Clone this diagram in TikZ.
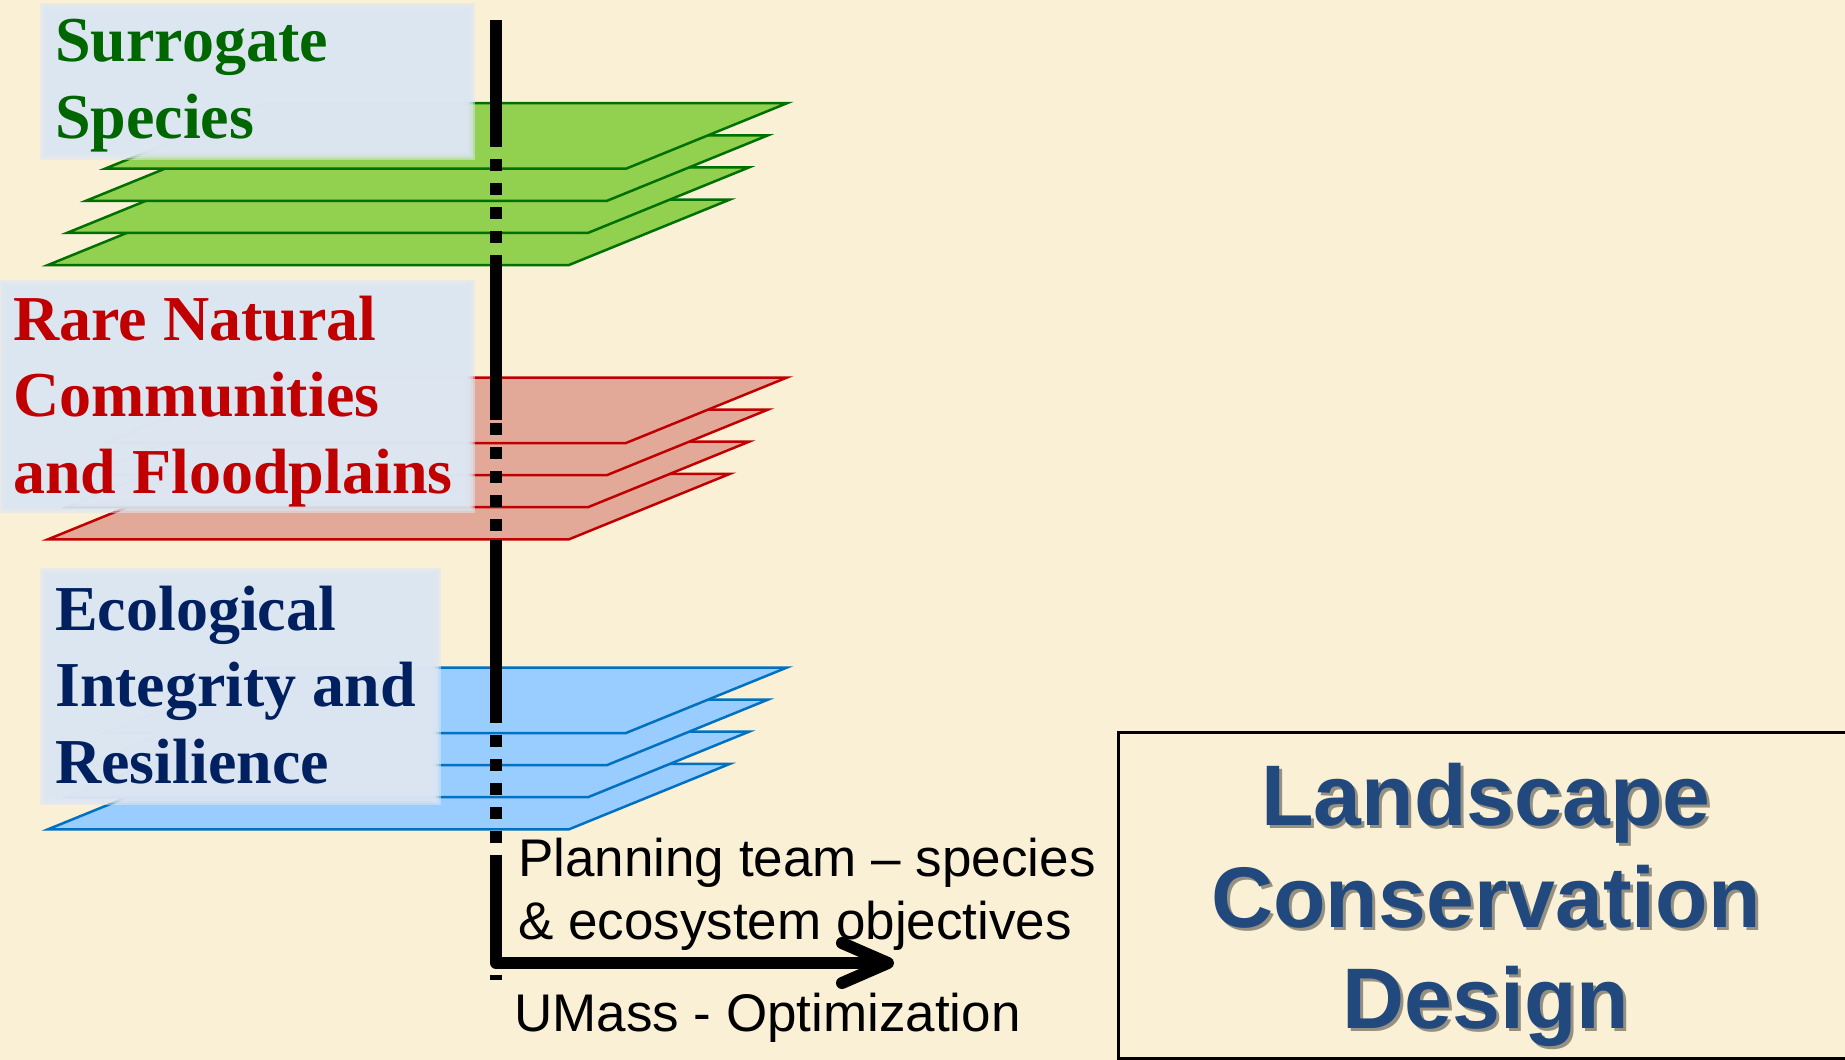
\documentclass[tikz,border=0pt]{standalone}
\usepackage{fontspec}
\setmainfont{Liberation Serif}
\newfontfamily\sansfont{Liberation Sans}

\definecolor{paper}{RGB}{250,240,214}
\definecolor{labelbg}{RGB}{220,230,242}
\definecolor{greenfill}{RGB}{146,208,80}
\definecolor{greenline}{RGB}{0,112,0}
\definecolor{redfill}{RGB}{227,169,152}
\definecolor{redline}{RGB}{192,0,0}
\definecolor{bluefill}{RGB}{153,204,255}
\definecolor{blueline}{RGB}{0,112,192}
\definecolor{greentext}{RGB}{0,102,0}
\definecolor{redtext}{RGB}{192,0,0}
\definecolor{navytext}{RGB}{0,32,96}
\definecolor{titleblue}{RGB}{33,73,125}

% four stacked map layers; #1 = y of the lowest front edge
\newcommand\layerstack[3]{%
  \foreach \i in {0,...,3} {
    \draw[layer, fill=#2, draw=#3]
      ({48+19*\i},{#1-32.1*\i}) -- ++(521,0) -- ++(161,-65.5) -- ++(-521,0) -- cycle;
  }}

% label panel with soft edges; corners (#1,#2) and (#3,#4)
\newcommand\softpanel[4]{%
  \foreach \d in {5,3,1,-1,-3,-5} {
    \fill[labelbg, opacity=0.55] ({#1-\d},{#2-\d}) rectangle ({#3+\d},{#4+\d});
  }}

\begin{document}
\begin{tikzpicture}[x=1pt,y=-1pt,
  layer/.style={line width=2.5pt, line join=miter},
  lab/.style={anchor=base west, inner sep=0pt, font=\fontsize{64}{74}\selectfont\bfseries},
  note/.style={anchor=base west, inner sep=0pt, font=\sansfont\fontsize{53}{63}\selectfont},
  title/.style={anchor=base, inner sep=0pt, text=titleblue, font=\sansfont\bfseries\fontsize{86}{102}\selectfont},
  tshadow/.style={title, text=black, opacity=0.4},
  pole/.style={line width=12pt},
  arrowline/.style={line width=12pt, line join=round}]

\useasboundingbox (0,0) rectangle (1845,1060);
\clip (0,0) rectangle (1845,1060);
\fill[paper] (0,0) rectangle (1845,1060);

% layer stacks
\layerstack{265}{greenfill}{greenline}
\layerstack{539.3}{redfill}{redline}
\layerstack{829.3}{bluefill}{blueline}

% label panels
\softpanel{45}{8}{470}{155}
\softpanel{4}{285}{470}{508}
\softpanel{45}{573}{436}{800}

% labels
\node[lab, text=greentext] (sur1) at (55,61) {Surrogate};
\node[lab, text=greentext] (sur2) at (55,138) {Species};
\node[lab, text=redtext] (rare1) at (13,340) {Rare Natural};
\node[lab, text=redtext] (rare2) at (13,416.5) {Communities};
\node[lab, text=redtext] (rare3) at (13,493) {and Floodplains};
\node[lab, text=navytext] (eco1) at (55,630) {Ecological};
\node[lab, text=navytext] (eco2) at (55,706.5) {Integrity and};
\node[lab, text=navytext] (eco3) at (55,783) {Resilience};

% the pole through the layers: dashed where hidden, solid where in front
\coordinate (poleTop) at (496,20);
\coordinate (poleEnd) at (496,980);
\draw[pole, dash pattern=on 11.7pt off 12.3pt, dash phase=4.7pt] (poleTop) -- (poleEnd);
\draw[pole] (poleTop) -- (496,147);
\draw[pole] (496,255) -- (496,420);
\draw[pole] (496,540) -- (496,722);

% bent arrow
\coordinate (arrTop) at (496,867);
\coordinate (arrCorner) at (496,963);
\coordinate (arrTip) at (888,963);
\coordinate (wingA) at (842,943);
\coordinate (wingB) at (842,983);
\draw[arrowline] (arrTop) -- (arrCorner) -- (arrTip);
\draw[arrowline, line cap=round] (wingA) -- (arrTip) -- (wingB);

% notes
\node[note] (plan1) at (518,876) {Planning team – species};
\node[note] (plan2) at (518,939) {\& ecosystem objectives};
\node[note] (umass) at (514,1031) {UMass - Optimization};

% title panel
\draw[line width=3pt] (1118,732) rectangle (1850,1058);
\node[tshadow] (t1s) at (1489,828) {Landscape};
\node[tshadow] (t2s) at (1489,930) {Conservation};
\node[tshadow] (t3s) at (1489,1031) {Design};
\node[title] (t1) at (1486,825) {Landscape};
\node[title] (t2) at (1486,927) {Conservation};
\node[title] (t3) at (1486,1028) {Design};
\end{tikzpicture}
\end{document}
